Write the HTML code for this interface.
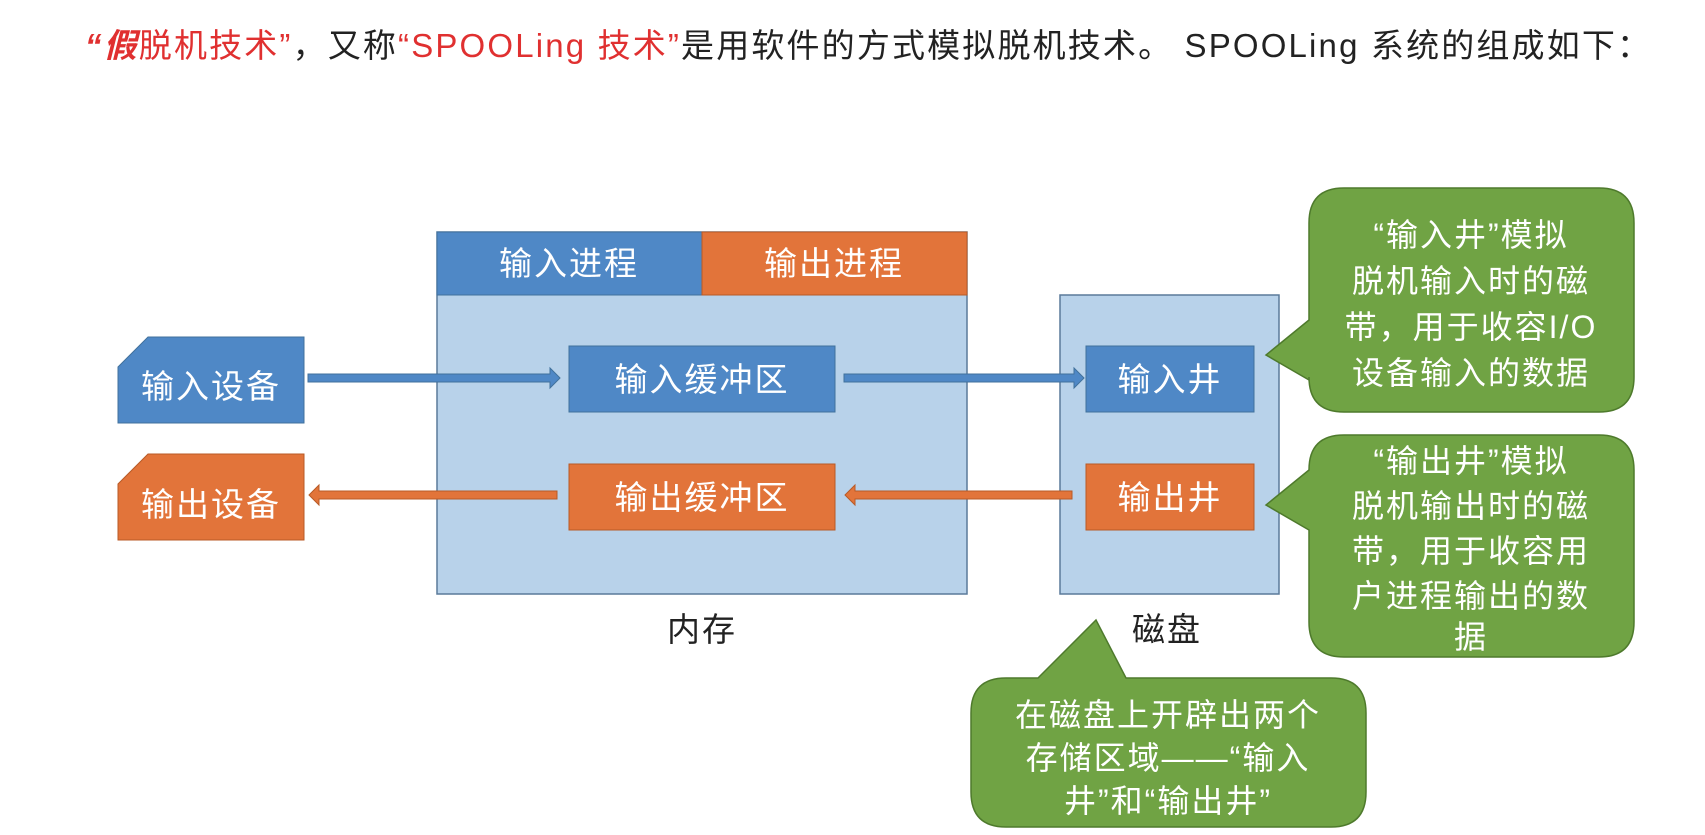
<!DOCTYPE html>
<html><head><meta charset="utf-8"><style>
body{margin:0;background:#fff;width:1705px;height:830px;overflow:hidden}
svg text{font-family:"Liberation Sans","Noto Sans CJK SC",sans-serif}
</style></head><body>
<svg width="1705" height="830" viewBox="0 0 1705 830">
<text x="85" y="57" font-size="33" fill="#222" textLength="1565" lengthAdjust="spacing"><tspan fill="#e03030" font-style="italic" font-weight="bold">“假</tspan><tspan fill="#e03030">脱机技术”</tspan>，又称<tspan fill="#e03030">“SPOOLing 技术”</tspan>是用软件的方式模拟脱机技术。 SPOOLing 系统的组成如下：</text>
<!-- memory -->
<rect x="437" y="232" width="530" height="362" fill="#b8d2ea" stroke="#5a7a9a" stroke-width="1.5"/>
<rect x="437" y="232" width="265" height="63" fill="#4f88c6" stroke="#41719c"/>
<rect x="702" y="232" width="265" height="63" fill="#e2743a" stroke="#b85a26"/>
<g font-size="33" fill="#fff" text-anchor="middle" letter-spacing="2">
<text x="569" y="275">输入进程</text>
<text x="834" y="275">输出进程</text>
</g>
<!-- disk -->
<rect x="1060" y="295" width="219" height="299" fill="#b8d2ea" stroke="#5a7a9a" stroke-width="1.5"/>
<!-- devices -->
<path d="M148 337H304V423H118V367Z" fill="#4f88c6" stroke="#41719c"/>
<path d="M148 454H304V540H118V484Z" fill="#e2743a" stroke="#b85a26"/>
<!-- buffers -->
<rect x="569" y="346" width="266" height="66" fill="#4f88c6" stroke="#41719c"/>
<rect x="569" y="464" width="266" height="66" fill="#e2743a" stroke="#b85a26"/>
<rect x="1086" y="346" width="168" height="66" fill="#4f88c6" stroke="#41719c"/>
<rect x="1086" y="464" width="168" height="66" fill="#e2743a" stroke="#b85a26"/>
<g font-size="33" fill="#fff" text-anchor="middle" letter-spacing="2">
<text x="211" y="398">输入设备</text>
<text x="211" y="516">输出设备</text>
<text x="702" y="391">输入缓冲区</text>
<text x="702" y="509">输出缓冲区</text>
<text x="1170" y="391">输入井</text>
<text x="1170" y="509">输出井</text>
</g>
<!-- arrows -->
<g stroke="#41719c" fill="#4f88c6" stroke-width="1">
<path d="M308 374H550V368L560 378L550 388V382H308Z"/>
<path d="M844 374H1074V368L1084 378L1074 388V382H844Z"/>
</g>
<g stroke="#b85a26" fill="#e2743a" stroke-width="1">
<path d="M557 491H319V485L309 495L319 505V499H557Z"/>
<path d="M1072 491H855V485L845 495L855 505V499H1072Z"/>
</g>
<text x="702" y="641" font-size="33" fill="#222" text-anchor="middle" letter-spacing="2">内存</text>
<text x="1167" y="641" font-size="33" fill="#222" text-anchor="middle" letter-spacing="2">磁盘</text>
<!-- callouts -->
<g fill="#70a344" stroke="#4e7a2c" stroke-width="1.5">
<path d="M1344 188H1599Q1634 188 1634 223V377Q1634 412 1599 412H1344Q1309 412 1309 377V380L1266 355L1309 320V223Q1309 188 1344 188Z"/>
<path d="M1344 435H1599Q1634 435 1634 470V622Q1634 657 1599 657H1344Q1309 657 1309 622V530L1266 505L1309 470Q1309 435 1344 435Z"/>
<path d="M1006 678H1038L1096 620L1126 678H1331Q1366 678 1366 713V792Q1366 827 1331 827H1006Q971 827 971 792V713Q971 678 1006 678Z"/>
</g>
<g font-size="32" fill="#fff" text-anchor="middle" letter-spacing="2">
<text x="1471" y="246">“输入井”模拟</text>
<text x="1471" y="292">脱机输入时的磁</text>
<text x="1471" y="338">带，用于收容I/O</text>
<text x="1471" y="384">设备输入的数据</text>
<text x="1471" y="472">“输出井”模拟</text>
<text x="1471" y="517">脱机输出时的磁</text>
<text x="1471" y="562">带，用于收容用</text>
<text x="1471" y="607">户进程输出的数</text>
<text x="1471" y="648">据</text>
<text x="1168" y="726">在磁盘上开辟出两个</text>
<text x="1168" y="769">存储区域——“输入</text>
<text x="1168" y="812">井”和“输出井”</text>
</g>
</svg>
</body></html>
